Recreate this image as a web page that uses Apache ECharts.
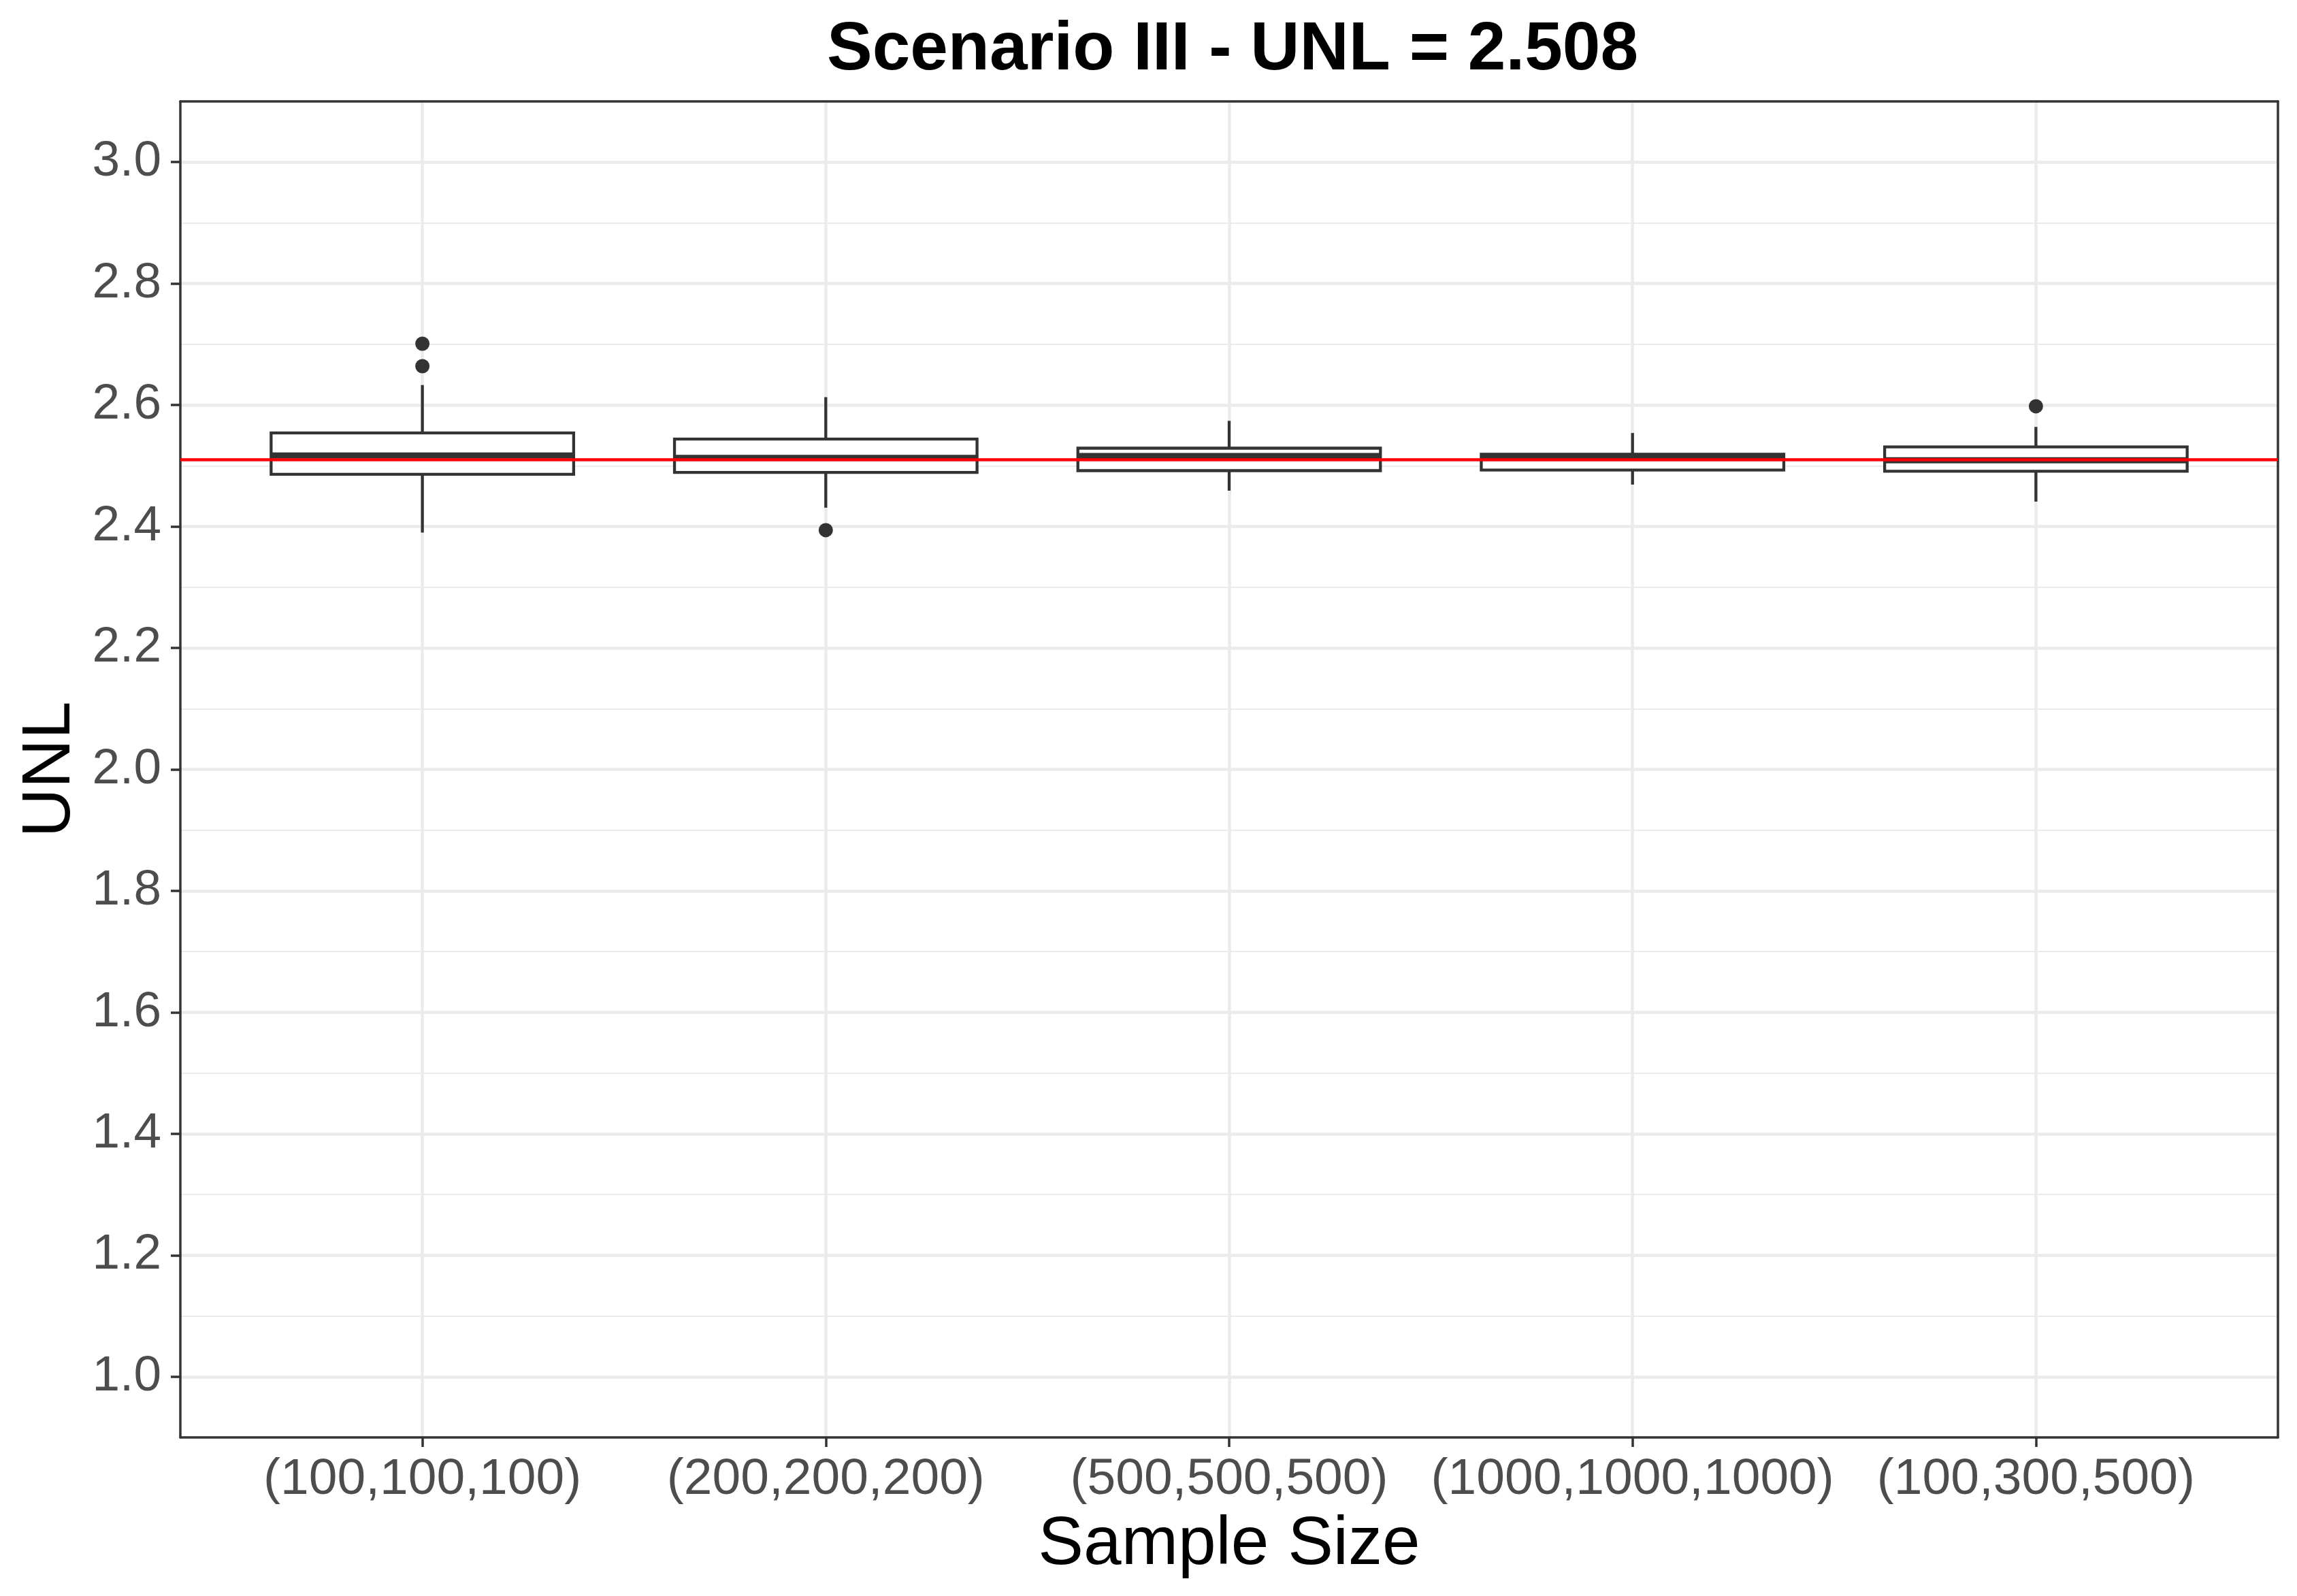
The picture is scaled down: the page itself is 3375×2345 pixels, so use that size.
<!DOCTYPE html>
<html>
<head>
<meta charset="utf-8">
<script src="https://cdn.jsdelivr.net/npm/echarts@6/dist/echarts.min.js"></script>
<style>
html,body{margin:0;padding:0;background:#fff;}
#chart{width:3375px;height:2345px;}
</style>
</head>
<body>
<div id="chart"></div>
<script>
// ---- data ----
var titleText = 'Scenario III - UNL = 2.508';
var categories = ['(100,100,100)', '(200,200,200)', '(500,500,500)', '(1000,1000,1000)', '(100,300,500)'];
var categoryPos = [1, 2, 3, 4, 5];
var whiskerLow  = [2.390, 2.431, 2.459, 2.469, 2.441];
var q1          = [2.486, 2.489, 2.492, 2.493, 2.491];
var median      = [2.517, 2.513, 2.516, 2.513, 2.509];
var q3          = [2.554, 2.544, 2.529, 2.519, 2.531];
var whiskerHigh = [2.633, 2.613, 2.574, 2.554, 2.564];
var outlierPos   = [1, 1, 2, 5];
var outlierValue = [2.701, 2.664, 2.394, 2.598];
var referenceUNL = 2.508;
var yMajorTicks = [1.0, 1.2, 1.4, 1.6, 1.8, 2.0, 2.2, 2.4, 2.6, 2.8, 3.0];
var yMinorTicks = [1.1, 1.3, 1.5, 1.7, 1.9, 2.1, 2.3, 2.5, 2.7, 2.9];

// ---- build series data ----
var boxData = categoryPos.map(function (p, i) {
  return [p, whiskerLow[i], q1[i], median[i], q3[i], whiskerHigh[i]];
});
var outlierData = outlierPos.map(function (p, i) { return [p, outlierValue[i]]; });

var FONT = '"Liberation Sans", Arial, sans-serif';
var INK = '#333333';
var BORDER = {show: true, lineStyle: {color: INK, width: 3.5}};

var chart = echarts.init(document.getElementById('chart'), null, {renderer: 'canvas'});

var option = {
  backgroundColor: '#ffffff',
  animation: false,
  title: {
    text: titleText,
    left: 1806,
    textAlign: 'center',
    top: 19,
    textStyle: {fontFamily: FONT, fontWeight: 'bold', fontSize: 100, color: '#000', lineHeight: 100}
  },
  grid: {
    left: 265, top: 149, right: 28, bottom: 233,
    show: false,
    containLabel: false
  },
  xAxis: [{
    type: 'value',
    min: 0.4, max: 5.6,
    position: 'bottom',
    name: 'Sample Size',
    nameLocation: 'middle',
    nameGap: 108,
    nameTextStyle: {fontFamily: FONT, fontSize: 100, color: '#000'},
    axisLine: BORDER,
    axisTick: {show: true, customValues: categoryPos, length: 14, lineStyle: {color: INK, width: 3.5}},
    axisLabel: {
      customValues: categoryPos, margin: 25,
      fontFamily: FONT, fontSize: 75, color: '#4D4D4D',
      formatter: function (v) { return categories[Math.round(v) - 1]; }
    },
    splitLine: {show: true, customValues: categoryPos, lineStyle: {color: '#EBEBEB', width: 4.5}}
  }, {
    type: 'value',
    min: 0.4, max: 5.6,
    position: 'top',
    axisLine: BORDER,
    axisTick: {show: false},
    axisLabel: {show: false},
    splitLine: {show: false}
  }],
  yAxis: [{
    type: 'value',
    min: 0.9, max: 3.1,
    position: 'left',
    name: 'UNL',
    nameLocation: 'middle',
    nameGap: 140,
    nameTextStyle: {fontFamily: FONT, fontSize: 100, color: '#000'},
    axisLine: BORDER,
    axisTick: {show: true, customValues: yMajorTicks, length: 14, lineStyle: {color: INK, width: 3.5}},
    axisLabel: {
      customValues: yMajorTicks, margin: 28,
      fontFamily: FONT, fontSize: 73, color: '#4D4D4D',
      formatter: function (v) { return v.toFixed(1); }
    },
    splitLine: {show: true, customValues: yMajorTicks, lineStyle: {color: '#EBEBEB', width: 4.5}}
  }, {
    type: 'value',
    min: 0.9, max: 3.1,
    position: 'right',
    axisLine: BORDER,
    axisTick: {show: false, customValues: yMinorTicks},
    axisLabel: {show: false, customValues: yMinorTicks},
    splitLine: {show: true, customValues: yMinorTicks, lineStyle: {color: '#EBEBEB', width: 2.2}}
  }],
  series: [{
    type: 'custom',
    name: 'box',
    z: 2,
    data: boxData,
    encode: {x: 0, y: [1, 2, 3, 4, 5]},
    renderItem: function (params, api) {
      var x = api.value(0);
      var halfW = api.size([0.75, 0])[0] / 2;
      var pLow = api.coord([x, api.value(1)]);
      var pQ1 = api.coord([x, api.value(2)]);
      var pMed = api.coord([x, api.value(3)]);
      var pQ3 = api.coord([x, api.value(4)]);
      var pHigh = api.coord([x, api.value(5)]);
      var lw = 4.3;
      return {
        type: 'group',
        children: [
          {type: 'line', shape: {x1: pLow[0], y1: pLow[1], x2: pQ1[0], y2: pQ1[1]}, style: {stroke: INK, lineWidth: lw}},
          {type: 'line', shape: {x1: pQ3[0], y1: pQ3[1], x2: pHigh[0], y2: pHigh[1]}, style: {stroke: INK, lineWidth: lw}},
          {type: 'rect', shape: {x: pQ3[0] - halfW, y: pQ3[1], width: halfW * 2, height: pQ1[1] - pQ3[1]},
            style: {fill: '#ffffff', stroke: INK, lineWidth: lw}},
          {type: 'line', shape: {x1: pMed[0] - halfW, y1: pMed[1], x2: pMed[0] + halfW, y2: pMed[1]},
            style: {stroke: INK, lineWidth: 9}}
        ]
      };
    }
  }, {
    type: 'scatter',
    name: 'outliers',
    z: 3,
    symbol: 'circle',
    symbolSize: 21,
    itemStyle: {color: INK, opacity: 1},
    data: outlierData,
    markLine: {
      silent: true,
      symbol: ['none', 'none'],
      label: {show: false},
      lineStyle: {color: '#FF0000', width: 4.5, type: 'solid', opacity: 1},
      data: [{yAxis: referenceUNL}]
    }
  }]
};
chart.setOption(option);
</script>
</body>
</html>
